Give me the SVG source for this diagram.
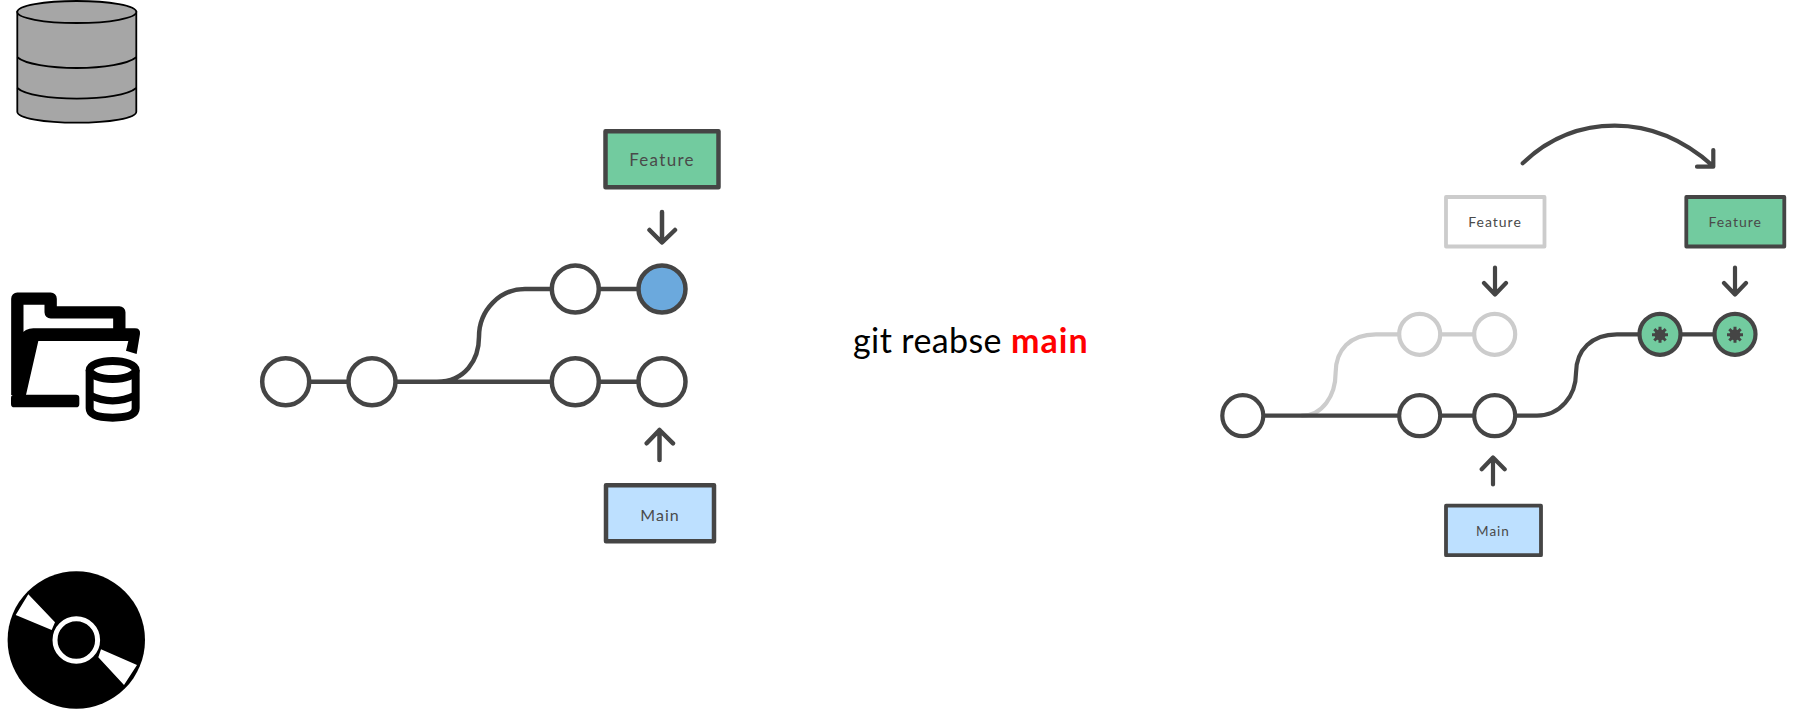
<svg xmlns="http://www.w3.org/2000/svg" width="1794" height="717" viewBox="0 0 1794 717">
<style>
.c{fill:#fff;stroke:#454545}
.l{stroke-width:4.5}.r{stroke-width:4.2}
.box{stroke:#454545;stroke-linejoin:round}
.g{fill:#72cb9f}
.gh{fill:#fff;stroke:#ccc}
.line{fill:none;stroke:#454545;stroke-linecap:round;stroke-linejoin:round}
.lg{stroke:#ccc}
.t{font-family:Lato,"Liberation Sans",sans-serif;fill:#4a4a4a;text-anchor:middle;letter-spacing:1px}
.fl{fill:none;stroke:#000;stroke-linejoin:round}
</style>
<defs>
<g id="burst"><path d="M-8 0H8M0-8V8M-5.7-5.7L5.7 5.7M-5.7 5.7L5.7-5.7" stroke="#454545" stroke-width="3" fill="none"/><circle r="5.5" fill="#454545"/></g>
</defs>
<g id="icon-database" fill="#a6a6a6" stroke="#000" stroke-width="1.8">
<path d="M17.3 12V111.7C17.3 118 44 122.7 76.8 122.7S136.3 118 136.3 111.7V12Z"/>
<ellipse cx="76.8" cy="12" rx="59.5" ry="11"/>
<path d="M17.3 57.3C25 64 50 68 76.8 68S128 64 136.3 57.3M17.3 88C25 95 50 98.7 76.8 98.7S128 95 136.3 88" fill="none"/>
</g>
<g id="icon-folder" transform="translate(0 280) scale(.3333)">
<path class="fl" stroke-width="37" d="M52 345V56H152V97H358V150"/>
<path d="M52 168L78 150Q88 145 100 145H405Q422 145 420 162L410 222L378 212L385 183H115L78 345H52Z" fill="#000"/>
<rect x="33" y="344" width="205" height="38" rx="10" fill="#000"/>
<path d="M269 270V385Q269 413 338 413T407 385V270" fill="#fff" stroke="#000" stroke-width="24"/>
<ellipse cx="338" cy="270" rx="69" ry="27" fill="#fff" stroke="#000" stroke-width="24"/>
<path d="M269 345Q338 380 407 345" fill="none" stroke="#000" stroke-width="22"/>
</g>
<g id="icon-disc">
<circle cx="76.3" cy="640" r="68.7" fill="#000"/>
<circle cx="76.3" cy="640" r="21.3" fill="none" stroke="#fff" stroke-width="5"/>
<path d="M28.3 594.3L55 622.3L51.7 630L15.7 615ZM101 649.3L137 665L124 685L98.3 657.3Z" fill="#fff"/>
</g>
<g id="connectors">
<path class="line" stroke-width="4.5" d="M286 381.7H662M437 381.7C465 381.7 479 360 479 336.7C479 310 500 289 525 289H662"/>
<path class="line" stroke-width="4.5" d="M662 212V242M649.5 230L662 242.5L675 230M659.5 460V430M646.7 443.3L659.5 430L673 443.3"/>
<path class="line lg" stroke-width="4.2" d="M1302 415.7C1322 415.7 1335.6 396 1335.6 373C1335.6 350 1350 334.3 1376 334.3H1495"/>
<path class="line" stroke-width="4.2" d="M1243 415.7H1537C1560 415.7 1576 396 1576 373C1576 350 1592 334.3 1617 334.3H1735"/>
<path class="line" stroke-width="4.2" d="M1495 267.5V294M1484 283L1495 294.5L1506 283M1735 267.5V294M1724 283L1735 294.5L1746 283M1493 484.5V457.5M1481.7 469.3L1493 457.5L1504.7 469.3"/>
<path class="line" stroke-width="4.2" d="M1522.7 163.3C1548 139 1580 125.7 1614.8 125.7C1650 125.7 1684 140 1713 166M1713.3 150V166.7H1697"/>
</g>
<g id="node-feature"><rect class="box g" x="605.5" y="131.2" width="113" height="56" stroke-width="4.5"/><text class="t" x="662" y="166" font-size="17" style="letter-spacing:1.3px">Feature</text></g>
<g id="node-main"><rect class="box" fill="#bde0ff" x="606" y="485.3" width="108" height="56" stroke-width="4.5"/><text class="t" x="660" y="520.5" font-size="16">Main</text></g>
<g id="commit-l1"><circle class="c l" cx="285.7" cy="381.7" r="23.5"/></g>
<g id="commit-l2"><circle class="c l" cx="372" cy="381.7" r="23.5"/></g>
<g id="commit-l3"><circle class="c l" cx="575.3" cy="381.7" r="23.5"/></g>
<g id="commit-l4"><circle class="c l" cx="662" cy="381.7" r="23.5"/></g>
<g id="commit-l5"><circle class="c l" cx="575.3" cy="289" r="23.5"/></g>
<g id="commit-l6"><circle class="c l" cx="662" cy="289" r="23.5" style="fill:#6ba9dd"/></g>
<text id="command" x="853" y="353.2" font-family="Lato,'Liberation Sans',sans-serif" font-size="34" letter-spacing=".4" fill="#000">git reabse <tspan fill="#f00" font-weight="700" letter-spacing="1">main</tspan></text>
<g id="node-feature-old"><rect class="gh" stroke-linejoin="round" x="1446" y="197" width="98.5" height="49.5" stroke-width="3.8"/><text class="t" x="1495" y="227.3" font-size="14">Feature</text></g>
<g id="node-feature-new"><rect class="box g" x="1686.3" y="197" width="98" height="49.5" stroke-width="3.8"/><text class="t" x="1735.2" y="227.3" font-size="14">Feature</text></g>
<g id="node-main-r"><rect class="box" fill="#bde0ff" x="1446" y="505.7" width="95" height="49.5" stroke-width="3.8"/><text class="t" x="1493" y="536" font-size="13.5">Main</text></g>
<g id="commit-r1"><circle class="c r" cx="1242.8" cy="415.7" r="20.5"/></g>
<g id="commit-r2"><circle class="c r" cx="1419.7" cy="415.7" r="20.5"/></g>
<g id="commit-r3"><circle class="c r" cx="1494.7" cy="415.7" r="20.5"/></g>
<g id="commit-r4"><circle class="r gh" cx="1419.7" cy="334.3" r="20.5"/></g>
<g id="commit-r5"><circle class="r gh" cx="1494.7" cy="334.3" r="20.5"/></g>
<g id="commit-r6"><circle class="c r" cx="1660" cy="334.3" r="20.5" style="fill:#72cb9f"/><use href="#burst" x="1660" y="334.8"/></g>
<g id="commit-r7"><circle class="c r" cx="1735" cy="334.3" r="20.5" style="fill:#72cb9f"/><use href="#burst" x="1735" y="334.8"/></g>
</svg>
